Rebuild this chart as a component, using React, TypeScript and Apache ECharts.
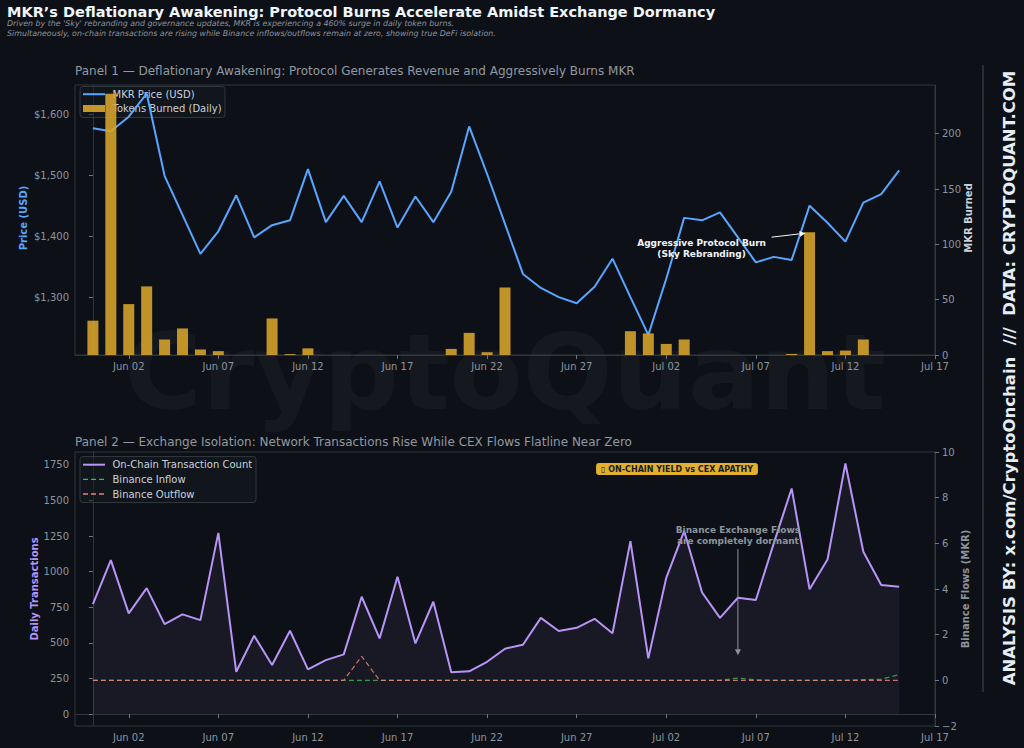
import { useEffect, useRef } from "react";
import * as echarts from "echarts";

// ---------- data (day index 0 = May 31) ----------
const START_UTC = Date.UTC(2024, 4, 31);
const MONTHS = ["Jan", "Feb", "Mar", "Apr", "May", "Jun", "Jul", "Aug", "Sep", "Oct", "Nov", "Dec"];
const xTickDays = [2, 7, 12, 17, 22, 27, 32, 37, 42, 47];

const mkrPrice = [
  1577, 1572, 1596, 1634, 1499, 1435, 1371, 1408, 1467, 1398, 1418, 1426, 1510, 1423, 1466, 1423,
  1490, 1414, 1465, 1423, 1473, 1580, 1502, 1420, 1338, 1315, 1300, 1290, 1317, 1363, 1300,
  1238, 1330, 1430, 1426, 1439, 1398, 1357, 1366, 1361, 1450, 1422, 1391, 1455, 1469, 1508,
];
const tokensBurned = [
  31, 236, 46, 62, 14, 24, 5, 3.5, 0, 0, 33, 0.8, 6, 0, 0, 0,
  0, 0, 0, 0, 5.5, 20, 2.5, 61, 0, 0, 0, 0, 0, 0, 21.5,
  19.5, 10, 14, 0, 0, 0, 0, 0, 1, 111, 3.5, 4, 14, 0, 0,
];
const txCount = [
  772, 1081, 707, 885, 632, 700, 660, 1273, 297, 550, 344, 585, 314, 379, 419, 824,
  531, 964, 496, 789, 293, 300, 367, 459, 487, 676, 583, 606, 669, 567, 1215,
  391, 957, 1285, 854, 676, 817, 801, 1199, 1585, 876, 1086, 1760, 1140, 906, 894,
];
const binanceInflow = [
  0, 0, 0, 0, 0, 0, 0, 0, 0, 0, 0, 0, 0, 0, 0, 0,
  0, 0, 0, 0, 0, 0, 0, 0, 0, 0, 0, 0, 0, 0, 0,
  0, 0, 0, 0, 0, 0.1, 0.02, 0, 0, 0, 0, 0, 0.03, 0.05, 0.25,
];
const binanceOutflow = [
  0, 0, 0, 0, 0, 0, 0, 0, 0, 0, 0, 0, 0, 0, 0, 1.05,
  0, 0, 0, 0, 0, 0, 0, 0, 0, 0, 0, 0, 0, 0, 0,
  0, 0, 0, 0, 0, 0, 0, 0, 0, 0, 0, 0, 0, 0, 0,
];
const priceTicks = [1300, 1400, 1500, 1600];
const burnTicks = [0, 50, 100, 150, 200];
const txTicks = [0, 250, 500, 750, 1000, 1250, 1500, 1750];

const burnAnnotation = { day: 40, value: 111 };
const flowAnnotation = { day: 36, value: 1.1 };

// ---------- styles ----------
const FONT = "DejaVu Sans";
const BG = "#0d1117";
const SPINE = "#30363d";
const LABEL = "#8b949e";
const BLUE = "#58a6ff";
const GOLD = "#d9a52c";
const PURPLE = "#b794f6";
const GREEN = "#3fb950";
const SALMON = "#e8836f";

const dayLabel = (d: number) => {
  const dt = new Date(START_UTC + d * 86400000);
  return MONTHS[dt.getUTCMonth()] + " " + String(dt.getUTCDate()).padStart(2, "0");
};
const pts = (arr: number[]) => arr.map((v, i) => [i, v]);

const xAxisFor = (gridIndex: number) => ({
  type: "value",
  gridIndex,
  min: -1,
  max: 47,
  axisLine: { show: true, lineStyle: { color: SPINE } },
  axisTick: { show: true, customValues: xTickDays, length: 4, lineStyle: { color: "#6e7681" } },
  axisLabel: { customValues: xTickDays, formatter: dayLabel, color: LABEL, fontSize: 10, fontFamily: FONT, margin: 6 },
  splitLine: { show: false },
});

const yAxisFor = (gridIndex: number, position: string, min: number, max: number, ticks: number[] | null, fmt: (v: number) => string, extra: any = {}) => ({
  type: "value",
  gridIndex,
  position,
  min,
  max,
  ...extra,
  axisLine: { show: true, lineStyle: { color: SPINE } },
  axisTick: ticks ? { show: true, customValues: ticks, length: 4, lineStyle: { color: "#6e7681" } } : { show: true, length: 4, lineStyle: { color: "#6e7681" } },
  axisLabel: ticks
    ? { customValues: ticks, formatter: fmt, color: LABEL, fontSize: 10, fontFamily: FONT, margin: position === "left" ? 6 : 7 }
    : { formatter: fmt, color: LABEL, fontSize: 10, fontFamily: FONT, margin: 7 },
  splitLine: { show: false },
});

function arrow(from: number[], to: number[], color: string) {
  const dx = to[0] - from[0];
  const dy = to[1] - from[1];
  const len = Math.sqrt(dx * dx + dy * dy) || 1;
  const ux = dx / len;
  const uy = dy / len;
  const hl = 6;
  const hw = 3;
  const bx = to[0] - ux * hl;
  const by = to[1] - uy * hl;
  return [
    { type: "line", z: 20, shape: { x1: from[0], y1: from[1], x2: bx, y2: by }, style: { stroke: color, lineWidth: 1 } },
    {
      type: "polygon",
      z: 20,
      shape: { points: [[to[0], to[1]], [bx - uy * hw, by + ux * hw], [bx + uy * hw, by - ux * hw]] },
      style: { fill: color },
    },
  ];
}

type LegendItem = { name: string; kind: "line" | "dash" | "rect"; color: string };
const legend1Items: LegendItem[] = [
  { name: "MKR Price (USD)", kind: "line", color: BLUE },
  { name: "Tokens Burned (Daily)", kind: "rect", color: GOLD },
];
const legend2Items: LegendItem[] = [
  { name: "On-Chain Transaction Count", kind: "line", color: PURPLE },
  { name: "Binance Inflow", kind: "dash", color: GREEN },
  { name: "Binance Outflow", kind: "dash", color: SALMON },
];

function legendGraphics(x: number, y: number, w: number, h: number, firstRow: number, rowGap: number, items: LegendItem[]) {
  const out: any[] = [
    {
      type: "rect",
      z: 1,
      shape: { x, y, width: w, height: h, r: 3 },
      style: { fill: "rgba(22,27,34,0.55)", stroke: SPINE, lineWidth: 1 },
    },
  ];
  items.forEach((it, i) => {
    const cy = firstRow + i * rowGap;
    if (it.kind === "rect") {
      out.push({ type: "rect", z: 1, shape: { x: x + 3, y: cy - 3.5, width: 22, height: 7 }, style: { fill: it.color, opacity: 0.9 } });
    } else {
      out.push({
        type: "line",
        z: 1,
        shape: { x1: x + 3, y1: cy, x2: x + 25, y2: cy },
        style: { stroke: it.color, lineWidth: it.kind === "line" ? 2 : 1.3, lineDash: it.kind === "dash" ? [5, 3] : null },
      });
    }
    out.push({
      type: "text",
      z: 1,
      x: x + 32.5,
      y: cy,
      style: { text: it.name, font: `10px "${FONT}"`, fill: "#c9d1d9", textAlign: "left", textVerticalAlign: "middle" },
    });
  });
  return out;
}

export default function App() {
  const ref = useRef<HTMLDivElement>(null);

  useEffect(() => {
    if (!ref.current) return;
    const chart = echarts.init(ref.current, null, { renderer: "svg" });

    const option: any = {
      animation: false,
      backgroundColor: BG,
      textStyle: { fontFamily: FONT },
      grid: [
        { left: 75, right: 89, top: 85, height: 270, show: true, borderColor: SPINE, borderWidth: 1, backgroundColor: "transparent" },
        { left: 75, right: 89, top: 452, height: 274, show: true, borderColor: SPINE, borderWidth: 1, backgroundColor: "transparent" },
      ],
      xAxis: [xAxisFor(0), xAxisFor(1)],
      yAxis: [
        yAxisFor(0, "left", 1205, 1648, priceTicks, (v) => "$" + v.toLocaleString("en-US")),
        yAxisFor(0, "right", 0, 244, burnTicks, (v) => String(v)),
        yAxisFor(1, "left", -84, 1841, txTicks, (v) => String(v)),
        yAxisFor(1, "right", -2, 10, null, (v) => (v < 0 ? "\u2212" + Math.abs(v) : String(v)), { interval: 2 }),
      ],
      series: [
        {
          name: "MKR Price (USD)",
          type: "line",
          xAxisIndex: 0,
          yAxisIndex: 0,
          data: pts(mkrPrice),
          symbol: "none",
          z: 3,
          lineStyle: { color: BLUE, width: 2 },
          itemStyle: { color: BLUE },
        },
        {
          name: "Tokens Burned (Daily)",
          type: "bar",
          xAxisIndex: 0,
          yAxisIndex: 1,
          data: pts(tokensBurned),
          barWidth: 11,
          z: 4,
          itemStyle: { color: GOLD, opacity: 0.88 },
        },
        {
          name: "On-Chain Transaction Count",
          type: "line",
          xAxisIndex: 1,
          yAxisIndex: 2,
          data: pts(txCount),
          symbol: "none",
          z: 3,
          lineStyle: { color: PURPLE, width: 2 },
          itemStyle: { color: PURPLE },
          areaStyle: { color: "rgba(183,148,246,0.10)" },
        },
        {
          name: "Binance Inflow",
          type: "line",
          xAxisIndex: 1,
          yAxisIndex: 3,
          data: pts(binanceInflow),
          symbol: "none",
          z: 4,
          lineStyle: { color: GREEN, width: 1.2, type: [5, 3], opacity: 0.8 },
          itemStyle: { color: GREEN },
        },
        {
          name: "Binance Outflow",
          type: "line",
          xAxisIndex: 1,
          yAxisIndex: 3,
          data: pts(binanceOutflow),
          symbol: "none",
          z: 5,
          lineStyle: { color: SALMON, width: 1.2, type: [5, 3], opacity: 0.85 },
          itemStyle: { color: SALMON },
        },
      ],
    };

    chart.setOption(option);

    const tip1 = chart.convertToPixel({ xAxisIndex: 0, yAxisIndex: 1 }, [burnAnnotation.day, burnAnnotation.value]) as number[];
    const t1 = [tip1[0] - 4, tip1[1] + 1];
    const tip2 = chart.convertToPixel({ xAxisIndex: 1, yAxisIndex: 3 }, [flowAnnotation.day, flowAnnotation.value]) as number[];

    const txt = (x: number, y: number, text: string, font: string, fill: string, align = "left", extra: any = {}) => ({
      type: "text",
      x,
      y,
      z: 20,
      ...extra,
      style: { text, font, fill, textAlign: align, textVerticalAlign: "middle" },
    });

    const graphics: any[] = [
      {
        type: "text",
        x: 505,
        y: 372,
        z: 0,
        silent: true,
        style: { text: "CryptoQuant", font: `bold 106px "${FONT}"`, fill: "rgba(255,255,255,0.035)", textAlign: "center", textVerticalAlign: "middle" },
      },
      txt(7, 12, "MKR\u2019s Deflationary Awakening: Protocol Burns Accelerate Amidst Exchange Dormancy", `bold 14.5px "${FONT}"`, "#f0f6fc"),
      txt(7, 23.5, "Driven by the 'Sky' rebranding and governance updates, MKR is experiencing a 460% surge in daily token burns.", `italic 7.9px "${FONT}"`, LABEL),
      txt(7, 33.5, "Simultaneously, on-chain transactions are rising while Binance inflows/outflows remain at zero, showing true DeFi isolation.", `italic 7.9px "${FONT}"`, LABEL),
      txt(75, 71, "Panel 1 \u2014 Deflationary Awakening: Protocol Generates Revenue and Aggressively Burns MKR", `12px "${FONT}"`, "#9198a1"),
      txt(75, 442, "Panel 2 \u2014 Exchange Isolation: Network Transactions Rise While CEX Flows Flatline Near Zero", `12px "${FONT}"`, "#9198a1"),
      txt(23, 218, "Price (USD)", `bold 10px "${FONT}"`, BLUE, "center", { rotation: Math.PI / 2 }),
      txt(968, 218, "MKR Burned", `bold 10px "${FONT}"`, "#c9d1d9", "center", { rotation: Math.PI / 2 }),
      txt(34, 589, "Daily Transactions", `bold 10px "${FONT}"`, PURPLE, "center", { rotation: Math.PI / 2 }),
      txt(965, 589, "Binance Flows (MKR)", `bold 10px "${FONT}"`, LABEL, "center", { rotation: Math.PI / 2 }),
      ...legendGraphics(80, 86.5, 145, 31, 94.2, 14.3, legend1Items),
      ...legendGraphics(80, 456.5, 176, 46, 464.7, 14.65, legend2Items),
      // annotation panel 1
      txt(t1[0] - 104, t1[1] + 10, "Aggressive Protocol Burn", `bold 9px "${FONT}"`, "#f0f6fc", "center"),
      txt(t1[0] - 104, t1[1] + 21, "(Sky Rebranding)", `bold 9px "${FONT}"`, "#f0f6fc", "center"),
      ...arrow([t1[0] - 34, t1[1] + 4], t1, "#f0f6fc"),
      // annotation panel 2
      txt(tip2[0], 529.5, "Binance Exchange Flows", `bold 9px "${FONT}"`, LABEL, "center"),
      txt(tip2[0], 540.5, "are completely dormant", `bold 9px "${FONT}"`, LABEL, "center"),
      ...arrow([tip2[0], 549], [tip2[0], tip2[1]], LABEL),
      // badge
      {
        type: "text",
        x: 677,
        y: 469,
        z: 20,
        style: {
          text: "\u25AF ON-CHAIN YIELD vs CEX APATHY",
          font: `bold 8px "${FONT}"`,
          fill: "#161b22",
          textAlign: "center",
          textVerticalAlign: "middle",
          backgroundColor: "#e3b02e",
          padding: [2, 5, 2, 5],
          borderRadius: 3,
        },
      },
      // right side credit
      { type: "line", z: 20, shape: { x1: 983, y1: 65, x2: 983, y2: 692 }, style: { stroke: "#444c56", lineWidth: 1 } },
      txt(1009, 378, "ANALYSIS BY: x.com/CryptoOnchain  ///  DATA: CRYPTOQUANT.COM", `bold 16.5px "${FONT}"`, "#e6edf3", "center", { rotation: Math.PI / 2 }),
    ];

    chart.setOption({ graphic: graphics });

    return () => chart.dispose();
  }, []);

  return (
    <div
      ref={ref}
      style={{ position: "fixed", left: 0, top: 0, width: 1024, height: 748, background: BG }}
    />
  );
}
